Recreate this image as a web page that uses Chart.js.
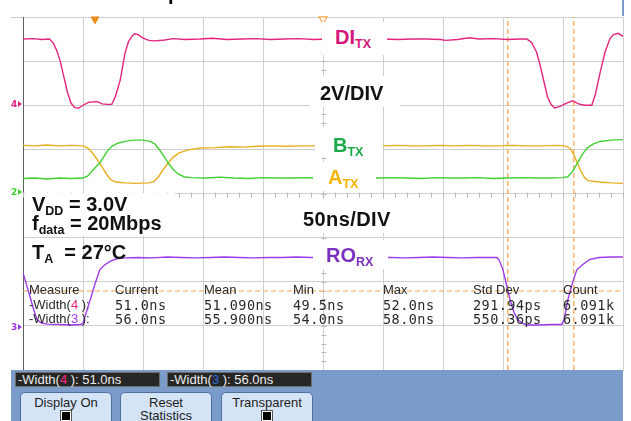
<!doctype html>
<html>
<head>
<meta charset="utf-8" />
<title>DI / A / B / RO waveforms</title>
<script src="https://cdn.jsdelivr.net/npm/chart.js@4"></script>
<style>
  body { margin: 0; background: #fff; }
  #scope { position: relative; width: 631px; height: 421px; overflow: hidden; font-family: 'Liberation Sans', Arial, sans-serif; }
  #wave { position: absolute; left: 0; top: 0; }
  .box { position: absolute; background: #fff; font: bold 20px 'Liberation Sans', Arial, sans-serif; line-height: 20px; white-space: nowrap; box-sizing: border-box; }
  .box sub { font-size: 12.5px; line-height: 0; vertical-align: -4px; }
  .plain { background: transparent; }
  .chm { position: absolute; left: 11px; font: bold 9px 'DejaVu Sans', sans-serif; line-height: 9px; }
  .chm i { display: inline-block; width: 0; height: 0; border-left: 4px solid currentColor; border-top: 3px solid transparent; border-bottom: 3px solid transparent; margin-left: 1px; }
  .meas { position: absolute; left: 0; width: 631px; height: 14px; font-size: 13px; line-height: 14px; color: #2a2a2a; }
  .meas span { position: absolute; top: 0; white-space: nowrap; }
  .meas .v { font-family: 'DejaVu Sans Mono', monospace; font-size: 13.5px; letter-spacing: 0.45px; }
  #panel { position: absolute; left: 11px; top: 370px; width: 612px; height: 51px; background: #7b9ccb; }
  .stat { position: absolute; top: 2px; width: 145px; height: 15px; background: #262626; border: 1px solid #6d6d6d; box-sizing: border-box; color: #ececec; font-size: 13px; line-height: 13px; padding-left: 2px; white-space: nowrap; }
  .btn { position: absolute; top: 22px; width: 92px; height: 34px; background: #d5e3f6; border: 1px solid #4f6f9e; border-radius: 5px; box-sizing: border-box; text-align: center; color: #1e1e1e; font-size: 13px; line-height: 13px; padding-top: 3px; }
  .chk { display: block; margin: 1px auto 0; width: 12px; height: 12px; box-sizing: border-box; border: 1px solid #555; background: #000; box-shadow: inset 0 0 0 1px #fff; }
</style>
</head>
<body>
<div id="scope">
  <canvas id="wave" width="631" height="421"></canvas>

  <!-- bits the scope draws outside the graticule -->
  <div style="position:absolute;left:11px;top:17px;width:12px;height:1px;background:#cfcfcf"></div>
  <div style="position:absolute;left:622px;top:0;width:2px;height:16px;background:#7b9ccb"></div>
  <div style="position:absolute;left:168px;top:-17px;font:bold 20px 'Liberation Sans',Arial;line-height:20px">p</div>
  <div class="chm" style="top:100px;color:#e3257f">4<i></i></div>
  <div class="chm" style="top:188px;color:#40d030">2<i></i></div>
  <div class="chm" style="top:323px;color:#9d3ce6">3<i></i></div>

  <!-- annotation labels, white boxes hide the traces like the original -->
  <div class="box" style="left:322px;top:22px;width:65px;height:33px;padding:5px 0 0 13px;color:#d4157a">DI<sub>TX</sub></div>
  <div class="box" style="left:310px;top:76px;width:90px;height:31px;padding:7px 0 0 10px;color:#111">2V/DIV</div>
  <div class="box" style="left:315px;top:127px;width:68px;height:30px;padding:8px 0 0 18px;color:#1aab4a">B<sub>TX</sub></div>
  <div class="box" style="left:313px;top:162px;width:63px;height:29px;padding:5px 0 0 15px;color:#f4b400">A<sub>TX</sub></div>
  <div class="box" style="left:298px;top:199px;width:100px;height:34px;padding:10px 0 0 5px;color:#111;letter-spacing:0.4px">50ns/DIV</div>
  <div class="box" style="left:313px;top:240px;width:75px;height:29px;padding:5px 0 0 13px;color:#7b2fbe">RO<sub>RX</sub></div>
  <div class="box" style="left:25px;top:193px;width:150px;height:43px;padding:1px 0 0 7px;color:#111">
    <div style="height:19px">V<sub>DD</sub> = 3.0V</div>
    <div>f<sub>data</sub> = 20Mbps</div>
  </div>
  <div class="box plain" style="left:32px;top:242px;color:#111">T<sub>A</sub>&nbsp; = 27°C</div>

  <!-- measurement statistics -->
  <div class="meas" style="top:283px">
    <span style="left:29px">Measure</span><span style="left:115px">Current</span><span style="left:204px">Mean</span>
    <span style="left:293px">Min</span><span style="left:383px">Max</span><span style="left:473px">Std Dev</span><span style="left:563px">Count</span>
  </div>
  <div class="meas" style="top:298px">
    <span style="left:29px">-Width(<b style="font-weight:normal;color:#e3257f">4</b> ):</span>
    <span class="v" style="left:115px">51.0ns</span><span class="v" style="left:204px">51.090ns</span><span class="v" style="left:293px">49.5ns</span>
    <span class="v" style="left:383px">52.0ns</span><span class="v" style="left:473px">291.94ps</span><span class="v" style="left:563px">6.091k</span>
  </div>
  <div class="meas" style="top:312px">
    <span style="left:29px">-Width(<b style="font-weight:normal;color:#9d3ce6">3</b> ):</span>
    <span class="v" style="left:115px">56.0ns</span><span class="v" style="left:204px">55.900ns</span><span class="v" style="left:293px">54.0ns</span>
    <span class="v" style="left:383px">58.0ns</span><span class="v" style="left:473px">550.36ps</span><span class="v" style="left:563px">6.091k</span>
  </div>

  <!-- softkey panel -->
  <div id="panel">
    <div class="stat" style="left:4px">-Width(<span style="color:#ff2a86">4</span> ): 51.0ns</div>
    <div class="stat" style="left:156px">-Width(<span style="color:#2f6ee0">3</span> ): 56.0ns</div>
    <div class="btn" style="left:9px">Display On<span class="chk"></span></div>
    <div class="btn" style="left:109px">Reset<br>Statistics</div>
    <div class="btn" style="left:210px">Transparent<span class="chk"></span></div>
  </div>
</div>

<script>
// time in ns (50 ns/div), level in divisions counted up from the bottom graticule line
const timeRange = [0, 500];
const levelRange = [0, 8];
const timeStep = 50;
const levelStep = 1;

const diTx = [
  [0,7.50],[8,7.51],[16,7.49],[22,7.50],[25,7.42],[28,7.25],[31,7.00],[34,6.65],[37,6.30],[40,6.05],[43,5.95],[46,5.93],
  [50,6.00],[55,6.07],[62,6.08],[66,6.03],[70,6.02],[74,6.02],[77,6.20],[81,6.57],[85,7.18],[88,7.45],[91,7.57],[93,7.62],
  [96,7.60],[100,7.52],[105,7.47],[110,7.46],[118,7.48],[125,7.51],[135,7.49],[147,7.50],[158,7.52],[170,7.49],[182,7.50],
  [194,7.51],[206,7.49],[218,7.50],[230,7.51],[242,7.49],[254,7.50],[300,7.50],[312,7.49],[324,7.50],[336,7.50],[348,7.49],
  [352,7.47],[362,7.49],[372,7.53],[380,7.50],[392,7.51],[404,7.49],[414,7.50],[420,7.50],[424,7.42],[428,7.20],[431,6.90],
  [434,6.55],[437,6.20],[440,6.02],[443,5.94],[448,5.98],[453,6.05],[458,6.10],[463,6.03],[468,6.00],[474,6.00],[477,6.25],
  [481,6.75],[485,7.20],[489,7.50],[492,7.60],[496,7.63],[500,7.56]
];
const bTx = [
  [0,4.34],[10,4.35],[20,4.33],[30,4.35],[40,4.34],[50,4.35],[54,4.40],[58,4.52],[62,4.64],[64,4.69],[67,4.82],[70,4.95],
  [74,5.07],[79,5.14],[85,5.18],[92,5.21],[100,5.21],[106,5.18],[110,5.12],[114,4.98],[118,4.82],[121,4.69],[125,4.55],
  [129,4.45],[134,4.38],[140,4.36],[152,4.35],[164,4.37],[176,4.35],[188,4.34],[200,4.36],[212,4.35],[224,4.35],[236,4.36],
  [248,4.35],[296,4.35],[308,4.36],[320,4.35],[332,4.34],[344,4.36],[356,4.35],[368,4.35],[380,4.36],[392,4.34],[404,4.35],
  [416,4.36],[428,4.35],[440,4.35],[450,4.36],[454,4.38],[458,4.50],[462,4.69],[466,4.88],[470,5.03],[475,5.12],[481,5.18],
  [490,5.21],[500,5.22]
];
const aTx = [
  [0,5.09],[10,5.08],[20,5.10],[30,5.08],[40,5.09],[50,5.08],[54,5.03],[58,4.92],[62,4.76],[64,4.69],[67,4.55],[70,4.42],
  [73,4.32],[77,4.26],[85,4.24],[95,4.23],[105,4.24],[109,4.27],[113,4.38],[117,4.55],[121,4.69],[125,4.82],[130,4.92],
  [138,4.99],[148,5.03],[160,5.04],[172,5.06],[184,5.05],[196,5.07],[208,5.08],[220,5.07],[232,5.08],[244,5.08],[300,5.08],
  [312,5.09],[324,5.08],[336,5.08],[348,5.09],[360,5.08],[372,5.09],[384,5.08],[396,5.08],[408,5.09],[420,5.08],[432,5.08],
  [444,5.09],[452,5.08],[456,5.02],[459,4.88],[462,4.69],[465,4.50],[468,4.36],[471,4.29],[480,4.26],[490,4.24],[500,4.23]
];
const roRx = [
  [0,2.20],[3,1.93],[6,1.65],[9,1.36],[11.5,1.15],[15,1.07],[20,1.04],[30,1.03],[40,1.02],[48,1.03],[50,1.06],[53,1.33],
  [56,1.59],[60,1.95],[64,2.27],[68,2.38],[72.5,2.46],[78,2.52],[85,2.54],[96,2.55],[108,2.54],[120,2.56],[132,2.55],
  [144,2.54],[156,2.55],[168,2.56],[180,2.55],[192,2.54],[204,2.55],[216,2.55],[228,2.56],[240,2.55],[306,2.55],[318,2.54],
  [330,2.55],[342,2.56],[354,2.55],[366,2.54],[378,2.55],[390,2.55],[395,2.55],[397,2.48],[400,2.27],[403,1.92],[406,1.59],
  [409,1.32],[412,1.15],[416,1.06],[420,1.02],[430,1.02],[440,1.03],[449,1.03],[451,1.15],[454,1.59],[458,1.98],[461.5,2.27],
  [466,2.38],[472,2.50],[480,2.55],[490,2.56],[500,2.56]
];
const cursorTimes = [404, 459];
const cursorLevel = 1.79;
const markTimes = [60, 250];
const markLevel = 7.95;

const pts = arr => arr.map(([x, y]) => ({ x, y }));
const trace = (data, color, order) => ({ data: pts(data), borderColor: color, borderWidth: 1.4, pointRadius: 0, tension: 0, order });
const dashed = (data) => ({ data, borderColor: '#f5a343', borderWidth: 1.2, borderDash: [5, 3], pointRadius: 0, order: 9 });

const datasets = [
  trace(diTx, '#e3257f', 1),
  trace(bTx, '#40d030', 2),
  trace(aTx, '#e8ae1e', 3),
  trace(roRx, '#9d3ce6', 1),
  ...cursorTimes.map(t => dashed([{ x: t, y: levelRange[0] }, { x: t, y: levelRange[1] }])),
  dashed([{ x: timeRange[0], y: cursorLevel }, { x: timeRange[1], y: cursorLevel }]),
  { data: [{ x: markTimes[0], y: markLevel }], showLine: false, pointStyle: 'triangle', rotation: 180, pointRadius: 4.5,
    pointBackgroundColor: '#f08a1c', pointBorderColor: '#f08a1c', clip: false, order: 0 },
  { data: [{ x: markTimes[1], y: markLevel }], showLine: false, pointStyle: 'triangle', rotation: 180, pointRadius: 4.5,
    pointBackgroundColor: '#fff', pointBorderColor: '#f5a343', pointBorderWidth: 1.2, clip: false, order: 0 }
];

// small ticks on the two centre graticule lines
const centreTicks = {
  id: 'centreTicks',
  beforeDatasetsDraw(chart) {
    const { ctx, scales: { x, y } } = chart;
    const cx = Math.round(x.getPixelForValue((timeRange[0] + timeRange[1]) / 2)) + 0.5;
    const cy = Math.round(y.getPixelForValue((levelRange[0] + levelRange[1]) / 2)) + 0.5;
    ctx.save();
    ctx.strokeStyle = '#b9b9b9';
    ctx.lineWidth = 1;
    ctx.beginPath();
    for (let i = 0; i <= 40; i++) {
      const py = Math.round(y.getPixelForValue(i / 5)) + 0.5;
      ctx.moveTo(cx - 2, py); ctx.lineTo(cx + 3, py);
    }
    for (let i = 0; i <= 50; i++) {
      const px = Math.round(x.getPixelForValue(i * 10)) + 0.5;
      ctx.moveTo(px, cy - 2); ctx.lineTo(px, cy + 3);
    }
    ctx.stroke();
    ctx.restore();
  }
};

new Chart(document.getElementById('wave'), {
  type: 'line',
  data: { datasets },
  options: {
    responsive: false,
    animation: false,
    devicePixelRatio: 1,
    layout: { padding: { left: 23, top: 17, right: 8, bottom: 51 } },
    plugins: { legend: { display: false }, tooltip: { enabled: false } },
    scales: {
      x: {
        type: 'linear', min: timeRange[0], max: timeRange[1],
        ticks: { stepSize: timeStep, display: false },
        grid: { color: '#cfcfcf', drawTicks: false },
        border: { color: '#cfcfcf' }
      },
      y: {
        type: 'linear', min: levelRange[0], max: levelRange[1],
        ticks: { stepSize: levelStep, display: false },
        grid: { color: '#cfcfcf', drawTicks: false },
        border: { color: '#5e5e5e' }
      }
    }
  },
  plugins: [centreTicks]
});
</script>
</body>
</html>
